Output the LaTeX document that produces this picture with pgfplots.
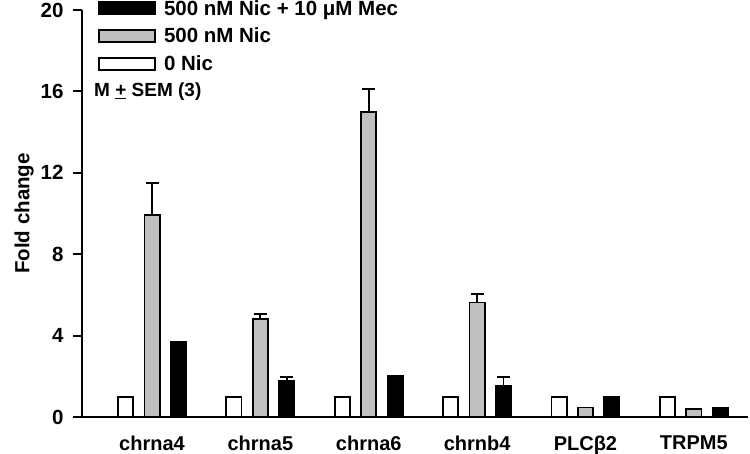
\documentclass[border=0pt]{standalone}
\usepackage{fontspec}
\setmainfont{Liberation Sans}
\usepackage{pgfplots}
\pgfplotsset{compat=1.18}

\definecolor{bargray}{RGB}{192,192,192}

\pgfplotsset{
  mybar/.style={
    draw=black, line width=1.8pt, fill=#1,
    legend image code/.code={
      \draw[line width=1.8pt,fill=#1,draw=black] (0pt,-5pt) rectangle (52pt,5pt);
      \path (0pt,-6pt) rectangle (56pt,6pt);}
  }
}

\begin{document}
\begin{tikzpicture}
\begin{axis}[
    name=ax,
    scale only axis,
    width=666pt, height=407pt,
    xmin=-0.646, xmax=5.5,
    ymin=0, ymax=20,
    axis x line=bottom, axis y line=left,
    axis line style={-, line width=2.2pt},
    ybar=11.2pt, bar width=15.2pt,
    xtick={0,1,2,3,4,5},
    xticklabels={chrna4,chrna5,chrna6,chrnb4,PLCβ2,TRPM5},
    xtick style={draw=none},
    ytick={0,4,8,12,16,20},
    ytick style={line width=2pt, black},
    tick align=outside,
    major tick length=9pt,
    /pgf/number format/assume math mode=true,
    yticklabel style={font=\fontsize{20.5}{24}\selectfont\bfseries, xshift=-6pt},
    xticklabel style={font=\fontsize{20}{24}\selectfont\bfseries, yshift=-6pt},
    ylabel={Fold change},
    ylabel style={font=\fontsize{20.5}{24}\selectfont\bfseries},
    legend style={draw=none, fill=none, at={(axis description cs:0,1)}, anchor=north west,
      xshift=13pt, yshift=14pt,
      font=\fontsize{20.5}{24}\selectfont\bfseries, row sep=7.5pt,
      legend cell align=left,
      /tikz/every odd column/.append style={column sep=6pt}},
    reverse legend,
    error bars/y dir=plus, error bars/y explicit,
    error bars/error bar style={line width=1.8pt, black},
    error bars/error mark options={rotate=90, mark size=6.5pt, line width=1.8pt, black},
]
\addplot[mybar=white] coordinates {(0,1) (1,1) (2,1) (3,1) (4,1) (5,1)};
\addlegendentry{0 Nic}
\addplot[mybar=bargray] coordinates {
  (0,9.93) +- (0,1.57)
  (1,4.80) +- (0,0.26)
  (2,15.0) +- (0,1.1)
  (3,5.63) +- (0,0.40)
  (4,0.47) +- (0,0)
  (5,0.38) +- (0,0)
};
\addlegendentry{500 nM Nic}
\addplot[mybar=black] coordinates {
  (0,3.70) +- (0,0)
  (1,1.78) +- (0,0.20)
  (2,2.00) +- (0,0.03)
  (3,1.55) +- (0,0.43)
  (4,1.00) +- (0,0)
  (5,0.46) +- (0,0)
};
\addlegendentry{500 nM Nic + 10 μM Mec}
\node[anchor=west, font=\fontsize{19}{22}\selectfont\bfseries, inner sep=0pt]
  at ([xshift=12pt]axis cs:-0.646,16) {M \underline{+} SEM (3)};
\end{axis}
\pgfresetboundingbox
\path[use as bounding box] ([shift={(-82pt,-36pt)}]ax.south west) rectangle ([shift={(2pt,10pt)}]ax.north east);
\end{tikzpicture}
\end{document}
